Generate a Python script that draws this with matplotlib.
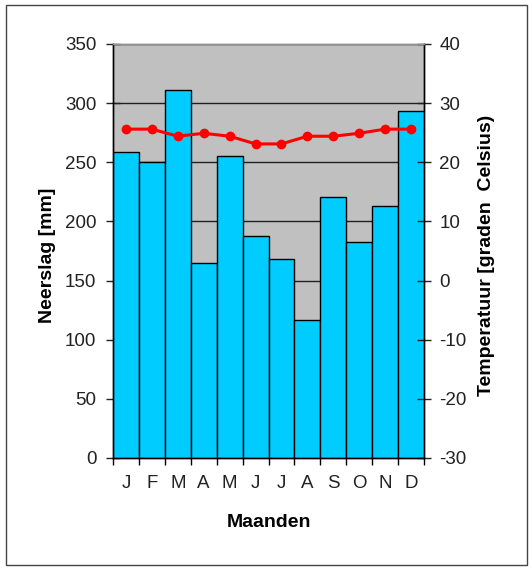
import numpy as np
import matplotlib.pyplot as plt
from matplotlib.patches import Rectangle

# Klimaatdiagram: neerslag (staven) en temperatuur (lijn)
months = ['J', 'F', 'M', 'A', 'M', 'J', 'J', 'A', 'S', 'O', 'N', 'D']
neerslag = [259, 250, 311, 165, 255, 188, 168, 117, 221, 183, 213, 293]
temperatuur = [25.6, 25.6, 24.4, 24.9, 24.4, 23.1, 23.1, 24.4, 24.4, 24.9, 25.6, 25.6]

left_ticks = [0, 50, 100, 150, 200, 250, 300, 350]
right_ticks = [-30, -20, -10, 0, 10, 20, 30, 40]

plt.rcParams['font.family'] = ['Liberation Sans', 'DejaVu Sans']
plt.rcParams['axes.unicode_minus'] = False

fig = plt.figure(figsize=(5.31, 5.68), dpi=100)
ax = fig.add_axes([0.2128, 0.1937, 0.5857, 0.7289])
ax.set_facecolor('#c0c0c0')

x = np.arange(len(months))
ax.bar(x, neerslag, width=1.0, color='#00ccff', edgecolor='black', linewidth=1.0, zorder=3)
ax.set_xlim(-0.5, len(months) - 0.5)
ax.set_ylim(0, 350)
ax.set_yticks(left_ticks)
ax.yaxis.grid(True, color='#202020', linewidth=1.0, zorder=1)
ax.set_axisbelow(True)

# month labels in bar centres, tick marks on the bar edges
ax.set_xticks(x)
ax.set_xticklabels(months)
ax.tick_params(axis='x', which='major', length=0, pad=12, labelsize=13.5, colors='#222222')
ax.set_xticks(np.arange(-0.5, len(months)), minor=True)
ax.tick_params(axis='x', which='minor', direction='out', length=5, width=1, color='black')
ax.tick_params(axis='y', direction='inout', length=10, width=1, pad=7, labelsize=13.5,
               colors='#222222')

ax.set_ylabel('Neerslag [mm]', fontsize=14, fontweight='bold')
ax.yaxis.set_label_coords(-0.183, 0.49)
ax.set_xlabel('Maanden', fontsize=14, fontweight='bold')
ax.xaxis.set_label_coords(0.5, -0.155)
ax.xaxis.label.set_va('center')

ax2 = ax.twinx()
ax2.plot(x, temperatuur, color='#ff0000', linewidth=2.2, marker='o', markersize=6, zorder=5)
ax2.set_ylim(-30, 40)
ax2.set_yticks(right_ticks)
ax2.tick_params(axis='y', direction='inout', length=10, width=1, pad=6, labelsize=13.5,
                colors='#222222')
ax2.set_ylabel('Temperatuur [graden  Celsius)', fontsize=14, fontweight='bold', rotation=90)
ax2.yaxis.set_label_coords(1.174, 0.49)

for a in (ax, ax2):
    for s in a.spines.values():
        s.set_color('black')
        s.set_linewidth(1.0)
ax.spines['top'].set_color('#909090')
ax2.spines['top'].set_color('#909090')

# outer frame round the chart
fig.patches.append(Rectangle((0.0113, 0.005), 0.981, 0.986, transform=fig.transFigure,
                             fill=False, edgecolor='#444444', linewidth=1.0))

fig.savefig('out.png', dpi=100)
